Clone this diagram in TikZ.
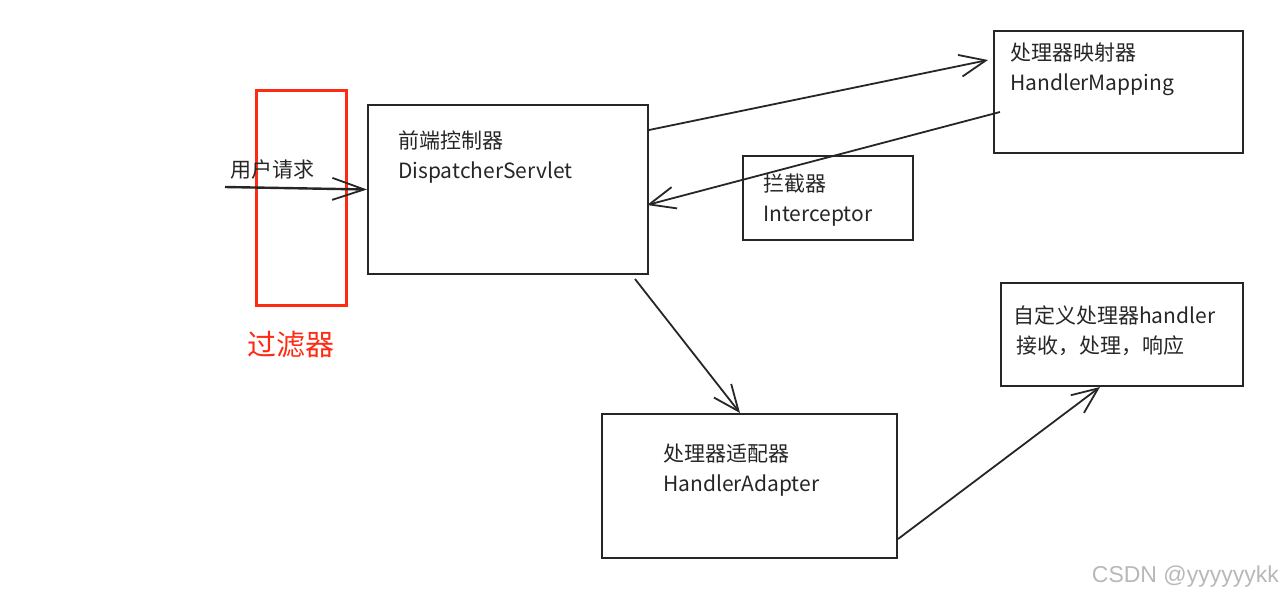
\documentclass[tikz,border=0pt]{standalone}
\usepackage{fontspec}
\setmainfont{Noto Sans CJK SC}
\newfontfamily\markfont{Liberation Sans}
\usetikzlibrary{arrows.meta}
\definecolor{filterred}{HTML}{FF2A12}

\begin{document}
\begin{tikzpicture}[x=1pt,y=-1pt]
\tikzset{
  box/.style={draw=black!85, line width=2pt, anchor=north west, inner sep=0pt},
  txt/.style={anchor=north west, inner sep=0pt, align=left, text=black!85,
    font=\fontsize{21}{30}\selectfont},
  link/.style={draw=black!85, line width=1.8pt,
    -{Straight Barb[length=26pt,width=22pt,line width=1.8pt]}}
}
\useasboundingbox (0,0) rectangle (1283,598);
% boxes
\node[box, minimum width=280, minimum height=169] (ds) at (367,104) {};
\node[box, minimum width=249, minimum height=122] (hm) at (993,30) {};
\node[box, minimum width=170, minimum height=84] (ic) at (742,155) {};
\node[box, minimum width=242, minimum height=103] (hd) at (1000,282) {};
\node[box, minimum width=295, minimum height=144] (ad) at (601,413) {};
\node[box, draw=filterred, line width=3pt, minimum width=90, minimum height=215] (flt) at (255,89) {};
% texts
\node[txt] (dstxt) at (398,131) {前端控制器\\DispatcherServlet};
\node[txt] (hmtxt) at (1010,43) {处理器映射器\\HandlerMapping};
\node[txt] (ictxt) at (763,174) {拦截器\\Interceptor};
\node[txt] (hdtxt) at (1013,306) {自定义处理器handler\\\,接收，处理，响应};
\node[txt] (adtxt) at (663,444) {处理器适配器\\HandlerAdapter};
\node[txt, anchor=west] (reqtxt) at (230,170) {用户请求};
\node[txt, anchor=center, text=filterred, font=\fontsize{29}{30}\selectfont] (flttxt) at (291,345) {过滤器};
\node[anchor=east, inner sep=0pt, text=black!28, font=\markfont\fontsize{23}{24}\selectfont] (mark) at (1279,577) {CSDN @yyyyyykk};
% connectors
\coordinate (req) at (225,187);
\draw[link, line width=2.4pt, -{Straight Barb[length=32pt,width=22pt,line width=1.8pt]}] (req) -- (ds.west);
\draw[link] ([yshift=-26pt]ds.north east) -- ([shift={(-5pt,-30pt)}]hm.north west);
\draw[link] ([shift={(7pt,-82pt)}]hm.north west) -- ([shift={(-2pt,-101pt)}]ds.north east);
\draw[link] ([shift={(-14pt,-4pt)}]ds.south east) -- ([xshift=139pt]ad.north west);
\draw[link] ([yshift=20pt]ad.south east) -- ([xshift=100pt]hd.south west);
\end{tikzpicture}
\end{document}
